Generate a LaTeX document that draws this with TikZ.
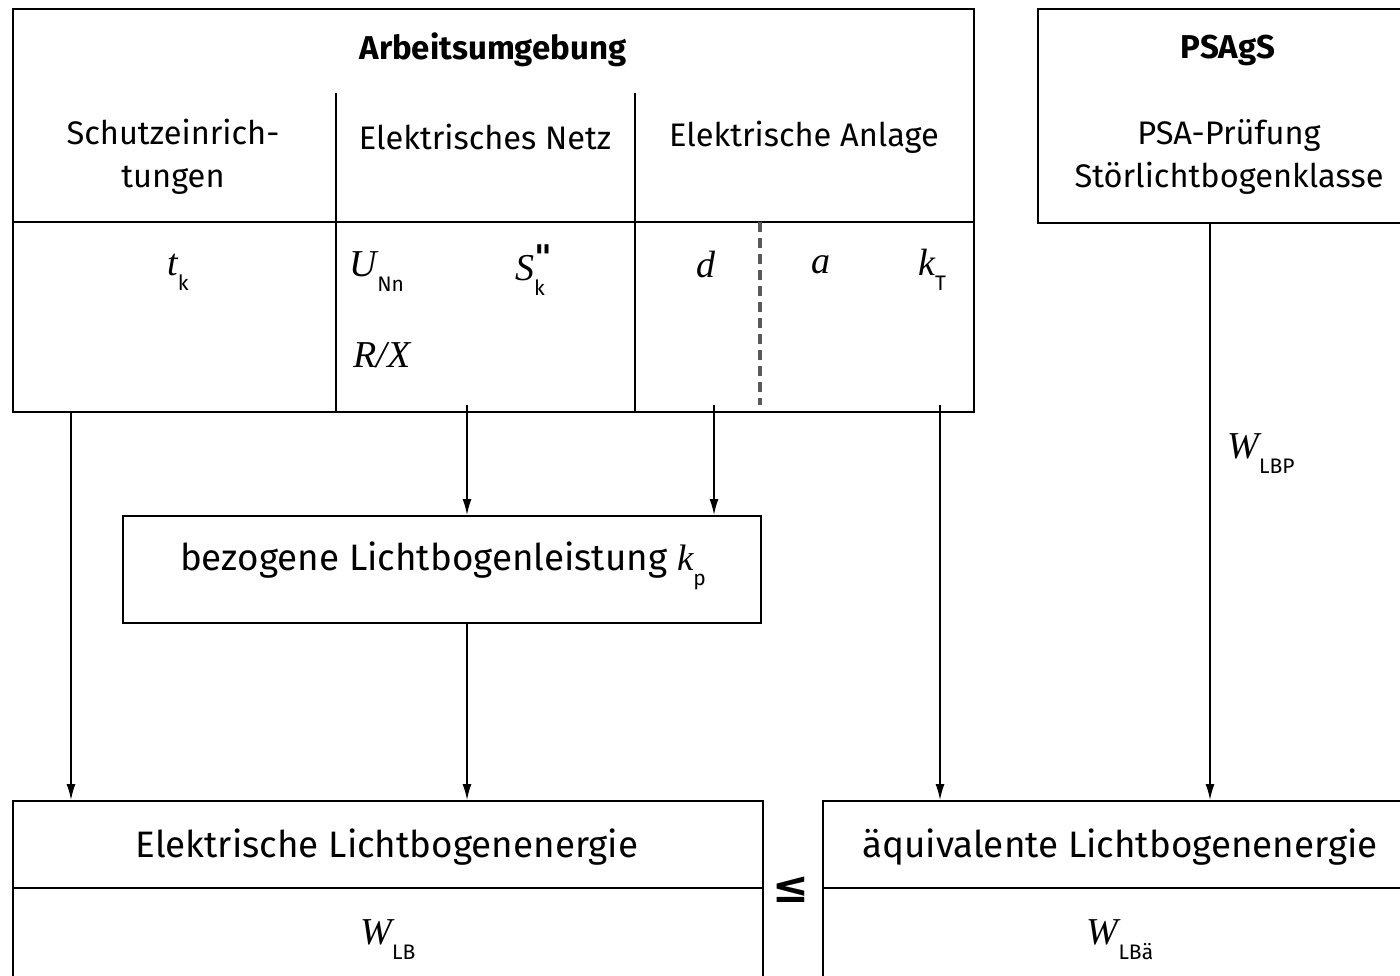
\documentclass[tikz,border=0pt]{standalone}
\usepackage{fontspec}
\setmainfont{Fira Sans}
\newfontfamily\serifit{Liberation Serif}
\newfontfamily\symfont{DejaVu Sans}
\usetikzlibrary{arrows.meta}
\newcommand\vr[2]{{\serifit\itshape #1}\raisebox{-0.75ex}{\fontsize{10.5}{10.5}\selectfont #2}}
\begin{document}
\begin{tikzpicture}[x=0.5pt,y=-0.5pt,
  box/.style={draw, line width=0.9pt, anchor=north west, inner sep=0pt},
  sep/.style={line width=0.9pt},
  arr/.style={line width=0.75pt, -{Latex[length=8pt,width=4.5pt]}},
  head/.style={font=\fontsize{16.3}{21.5}\selectfont, align=center},
  big/.style={font=\fontsize{18.4}{22}\selectfont, align=center},
  var/.style={font=\fontsize{19}{22}\selectfont, inner sep=0pt}]
\useasboundingbox (0,0) rectangle (1400,975);
% boxes
\node[box, minimum width=480.5pt, minimum height=201.5pt] (arb) at (12,8) {};
\node[box, minimum width=186.5pt, minimum height=107pt] (psa) at (1037,8) {};
\node[box, minimum width=319pt, minimum height=53.5pt] (kp) at (122,515) {};
\node[box, minimum width=375pt, minimum height=95pt] (elb) at (12,800) {};
\node[box, minimum width=294pt, minimum height=95pt] (aeq) at (822,800) {};
% inner lines
\draw[sep] (12,222) -- (973,222);
\draw[sep] (336,93) -- (336,411);
\draw[sep] (635,93) -- (635,411);
\draw[line width=1.6pt, black!65, dash pattern=on 5pt off 3pt] (760,222) -- (760,405);
\draw[sep] (12,888) -- (762,888);
\draw[sep] (822,888) -- (1410,888);
% texts
\node[head, font=\fontsize{16.5}{20}\selectfont\bfseries] (t1) at (493,50) {Arbeitsumgebung};
\node[head] (t2) at (173,157) {Schutzeinrich-\\tungen};
\node[head] (t3) at (485,137) {Elektrisches Netz};
\node[head] (t4) at (804,137) {Elektrische Anlage};
\node[head, font=\fontsize{16.5}{20}\selectfont\bfseries] (t5) at (1228,50) {PSAgS};
\node[head] (t6) at (1229,157) {PSA-Prüfung\\Störlichtbogenklasse};
\node[var] (v1) at (178,272) {\vr{t}{k}};
\node[var] (v2) at (377,272) {\vr{U}{Nn}};
\node[var] (v3) at (530,270) {{\serifit\itshape S}\makebox[0pt][l]{\raisebox{0.55ex}{\symfont\bfseries\itshape\fontsize{17}{17}\selectfont "}}\raisebox{-0.75ex}{\fontsize{10.5}{10.5}\selectfont k}};
\node[var] (v4) at (382,355) {{\serifit\itshape R/X}};
\node[var] (v5) at (706,265) {{\serifit\itshape d}};
\node[var] (v6) at (821,265) {{\serifit\itshape a}};
\node[var] (v7) at (932,270) {\vr{k}{T}};
\node[big] (t7) at (443,566) {bezogene Lichtbogenleistung \vr{k}{p}};
\node[big] (t8) at (387,847) {Elektrische Lichtbogenenergie};
\node[big] (t9) at (1120,847) {äquivalente Lichtbogenenergie};
\node[var] (w1) at (388,940) {\vr{W}{LB}};
\node[var] (w2) at (1120,940) {\vr{W}{LBä}};
\node[var] (w3) at (1261,454) {\vr{W}{LBP}};
\node[inner sep=0pt] (le) at (791,890) {\symfont\bfseries\fontsize{22}{22}\selectfont ≤};
% connectors
\coordinate (s1) at (71,411);
\coordinate (s2) at (467,405);
\coordinate (s3) at (714,405);
\coordinate (s5) at (940,405);
\coordinate (s6) at (1210,222);
\draw[arr] (s1) -- (s1 |- elb.north);
\draw[arr] (s2) -- (s2 |- kp.north);
\draw[arr] (s3) -- (s3 |- kp.north);
\draw[arr] (s2 |- kp.south) -- (s2 |- elb.north);
\draw[arr] (s5) -- (s5 |- aeq.north);
\draw[arr] (s6) -- (s6 |- aeq.north);
\end{tikzpicture}
\end{document}
